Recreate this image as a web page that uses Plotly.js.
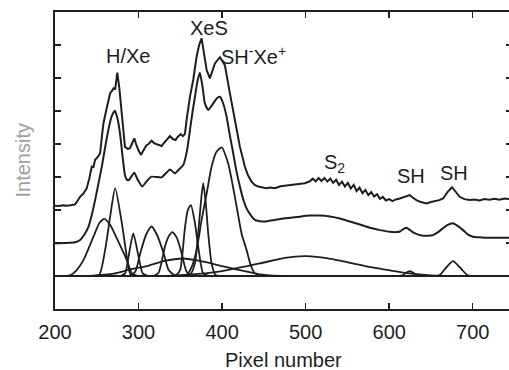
<!DOCTYPE html>
<html>
<head>
<meta charset="utf-8">
<script src="https://cdn.plot.ly/plotly-3.0.1.min.js"></script>
<style>
html,body{margin:0;padding:0;overflow:hidden;background:#fff;}
#chart{width:518px;height:370px;}
</style>
</head>
<body>
<div id="chart"></div>
<script>
// ---- data (y in axis units; baseline of components = 1) ----
const xTicks = [200, 300, 400, 500, 600, 700];

// measured (noisy) spectrum, offset upward
const rawX = [200,205,210,215,220,224,227,230,234,238,241,244,246,248,251,254,256,258,262,266,268,270,272,274.5,277,279.8,282,283.7,287,289.7,292,294.9,297,300,303,306,309,312,315.6,319,323,327.6,331,334,337.6,341,344.4,347,350.7,353,355.5,357.5,361.5,365.4,369.5,372.5,375.5,378,381.5,385.4,388,391.4,397.4,403.3,409.3,415.3,421.3,427.3,431,435.3,439,443.2,448,453,458,463.2,470,476,481,487,493,499,505,508.5,512,515.5,519,522.5,526,529.5,533,536.5,540,543.5,547,550.5,554,557.5,561,564.5,568,571.5,575,578.5,582,585.5,589,592.5,596,600,604,608,612.7,618,624.6,628,632.6,638,644.6,650,655,660,664.5,670,675.2,680,684.4,690,696.4,702,708,714,720,726,732,738,745,750];
const rawY = [3.13,3.12,3.14,3.13,3.15,3.17,3.28,3.40,3.50,3.66,3.95,4.31,4.30,4.52,4.60,4.72,5.20,5.63,6.10,6.54,6.60,6.69,6.65,7.16,6.70,6.03,5.30,4.92,4.85,4.87,5.00,5.17,5.00,4.80,4.67,4.80,4.95,5.00,5.10,5.02,4.98,4.94,5.05,5.15,5.24,5.15,5.12,5.22,5.30,5.24,5.30,5.73,6.43,6.94,7.65,8.00,8.20,7.80,7.24,6.99,7.20,7.44,7.63,7.39,6.54,5.73,4.92,4.31,4.05,3.86,3.76,3.71,3.69,3.66,3.68,3.66,3.72,3.74,3.76,3.79,3.80,3.81,3.87,3.95,3.87,3.97,3.88,3.97,3.86,3.95,3.82,3.92,3.76,3.86,3.71,3.82,3.65,3.76,3.57,3.68,3.51,3.61,3.45,3.54,3.41,3.48,3.34,3.40,3.29,3.33,3.27,3.32,3.35,3.40,3.45,3.38,3.30,3.24,3.20,3.24,3.26,3.30,3.35,3.55,3.69,3.55,3.40,3.33,3.30,3.32,3.29,3.33,3.31,3.34,3.31,3.35,3.33,3.34];

// fitted sum, offset
const fitX = [200,212,224,230,235,240,244,248,252,256,260,263.8,268,271.8,275,277.8,281,283.7,286,288.5,291.5,294.9,299,304.4,310,315.6,321,327.6,333,337.6,343.5,348,353.5,358,361.5,364.5,367.5,370.5,373.4,376.5,379.4,383.4,389.4,393.5,397.4,401,405.4,409,413.3,417,421.3,425,429.3,434,439.2,445,451.2,463,475.1,490,505,517,529,541,552.9,565,576.8,589,600.7,608,613,617,620.7,624.5,628.6,634,640.6,646,652.5,658,664.5,670,676.4,682,688.4,694,700.4,710,720,735,750];
const fitY = [1.99,2.00,2.02,2.09,2.25,2.49,2.85,3.30,3.80,4.31,4.90,5.42,5.85,6.01,5.75,5.32,4.60,4.06,3.92,3.91,4.02,4.13,3.92,3.71,3.88,4.01,4.00,3.99,4.12,4.23,4.11,4.22,4.36,4.80,5.42,5.95,6.43,6.90,7.16,6.75,6.23,6.03,6.23,6.38,6.43,6.25,5.83,5.30,4.72,4.20,3.71,3.35,3.05,2.85,2.70,2.66,2.65,2.70,2.75,2.79,2.83,2.83,2.80,2.74,2.65,2.56,2.46,2.39,2.34,2.33,2.35,2.42,2.46,2.40,2.32,2.26,2.22,2.22,2.24,2.32,2.45,2.55,2.60,2.52,2.39,2.26,2.19,2.17,2.16,2.16,2.16];

// zero line of the components
const baseX = [200, 750];
const baseY = [1, 1];

// fitted components
const compAx = [205,218,226,234,246,253,259,266,274,286,292,300];
const compAy = [1.00,1.02,1.18,1.48,2.19,2.60,2.73,2.55,2.14,1.48,1.08,1.00];
const compBx = [245,253,260,266,272,280,286,290,298];
const compBy = [1.00,1.03,1.79,2.80,3.66,2.60,1.58,1.08,1.00];
const compCx = [278,284,288,293.7,300,305,312];
const compCy = [1.00,1.08,1.58,2.29,1.58,1.08,1.00];
const compDx = [288,296,302,309,315.6,322,330,336,344];
const compDy = [1.00,1.13,1.69,2.25,2.50,2.25,1.69,1.18,1.00];
const compEx = [318,324,331.6,336,340.5,346,351.6,357.5,365];
const compEy = [1.00,1.10,1.89,2.20,2.33,2.15,1.69,1.13,1.00];
const compFx = [340,346,350,355.5,359,362.7,367.5,371.4,377.4,385];
const compFy = [1.00,1.05,1.20,2.45,3.00,3.15,2.60,1.89,1.08,1.00];
const compGx = [355,362,367.5,371.4,374.5,377.4,380.5,383.4,387.4,392,400];
const compGy = [1.00,1.05,1.39,2.29,3.20,3.81,3.20,2.29,1.39,1.03,1.00];
const compHx = [350,358,364,369.5,375.5,381.5,387.4,393,399.4,407.3,415.3,423.3,429.3,434,439.2,448];
const compHy = [1.00,1.05,1.30,1.79,2.70,3.50,4.31,4.75,4.90,4.41,3.40,2.29,1.79,1.35,1.08,1.00];
const compIx = [240,270,290,310,330,353,375,400,421,445,470];
const compIy = [1.00,1.07,1.20,1.30,1.45,1.53,1.45,1.30,1.18,1.05,1.00];
const compJx = [330,360,400,445,475,501,530,553,580,601,621,650,680];
const compJy = [1.00,1.04,1.15,1.38,1.55,1.60,1.52,1.40,1.26,1.17,1.09,1.02,1.00];
const compKx = [610,616,620,624.6,629,633,640];
const compKy = [1.00,1.02,1.10,1.15,1.10,1.02,1.00];
const compLx = [650,660,668,676.4,685,694,705];
const compLy = [1.00,1.02,1.25,1.45,1.25,1.02,1.00];

// peak labels
const labelText = ["H/Xe", "XeS", "SH<sup>-</sup>Xe<sup>+</sup>", "S<sub>2</sub>", "SH", "SH"];
const labelX = [287, 384, 438, 535, 626, 677];
const labelY = [7.67, 8.52, 7.67, 4.42, 4.03, 4.12];

// axis titles
const xTitle = 'Pixel number';
const yTitle = 'Intensity';

// ---- drawing ----
const ink = '#1e1e1e';
const font = 'Liberation Sans, Arial, Helvetica, sans-serif';
function tr(x, y, w, shape, sm) {
  const line = {color: ink, width: w, shape: shape};
  if (shape === 'spline') line.smoothing = sm;
  return {x: x, y: y, type: 'scatter', mode: 'lines', line: line, hoverinfo: 'skip', showlegend: false};
}
const comps = [[compAx,compAy],[compBx,compBy],[compCx,compCy],[compDx,compDy],[compEx,compEy],[compFx,compFy],[compGx,compGy],[compHx,compHy],[compIx,compIy],[compJx,compJy],[compKx,compKy],[compLx,compLy]];
const data = [tr(baseX, baseY, 2, 'linear')];
comps.forEach(c => data.push(tr(c[0], c[1], 1.8, 'spline', 0.6)));
data.push(tr(fitX, fitY, 2, 'spline', 0.5));
data.push(tr(rawX, rawY, 2, 'linear'));

const annotations = labelText.map((t, i) => ({
  x: labelX[i], y: labelY[i], xref: 'x', yref: 'y', text: t, showarrow: false,
  font: {family: font, size: 20, color: ink}, xanchor: 'center', yanchor: 'middle'
}));
annotations.push({
  x: 0, y: 0.5, xref: 'paper', yref: 'paper', xshift: -33, text: yTitle, textangle: -90,
  showarrow: false, font: {family: font, size: 20, color: '#a0a0a0'}, xanchor: 'center', yanchor: 'middle'
});
annotations.push({
  x: 0.5, y: 0, xref: 'paper', yref: 'paper', yshift: -51, text: xTitle,
  showarrow: false, font: {family: font, size: 20, color: ink}, xanchor: 'center', yanchor: 'middle'
});

const layout = {
  width: 518, height: 370,
  margin: {l: 55, r: 6, t: 12, b: 61},
  paper_bgcolor: '#fff', plot_bgcolor: '#fff',
  showlegend: false,
  font: {family: font, color: ink},
  xaxis: {
    range: [200, 747], tickvals: xTicks, ticktext: xTicks.map(String),
    ticks: 'inside', ticklen: 6, tickwidth: 1.5, tickcolor: ink,
    showline: true, linewidth: 2, linecolor: ink, mirror: 'ticks',
    showgrid: false, zeroline: false,
    tickfont: {family: font, size: 20, color: ink},
    ticklabelstandoff: 4
  },
  yaxis: {
    range: [0, 9], dtick: 1, tick0: 0,
    ticks: 'inside', ticklen: 6, tickwidth: 1.5, tickcolor: ink,
    showline: true, linewidth: 2, linecolor: ink, mirror: 'ticks',
    showgrid: false, zeroline: false, showticklabels: false
  },
  annotations: annotations
};
Plotly.newPlot('chart', data, layout, {staticPlot: true, displayModeBar: false});
</script>
</body>
</html>
